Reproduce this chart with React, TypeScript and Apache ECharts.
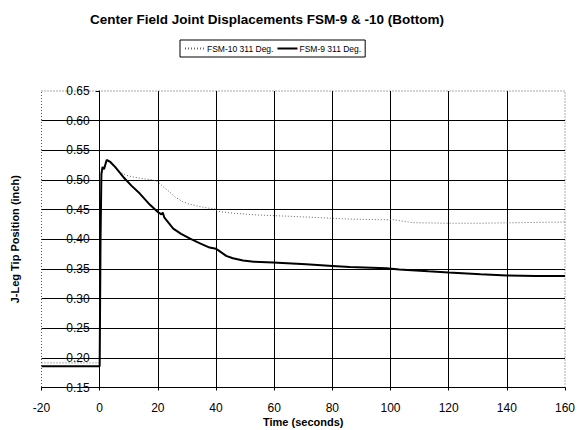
import React, { useEffect, useRef } from "react";
import * as echarts from "echarts";

const TITLE = "Center Field Joint Displacements FSM-9 & -10 (Bottom)";
const X_NAME = "Time (seconds)";
const Y_NAME = "J-Leg Tip Position (inch)";
const SERIES_NAMES = ["FSM-10 311 Deg.", "FSM-9 311 Deg."];

// FSM-10 (dotted)
const t10 = [-20, 0, 0.3, 0.6, 1.0, 1.5, 2.5, 3.5, 5, 6.9, 9, 11.5, 15, 18.4, 20, 22, 24, 26, 28.7, 31, 34.5, 38, 39.5, 40.5, 45.8, 54, 64, 73, 86, 96, 101, 107.7, 119, 131, 144, 160];
const v10 = [0.1915, 0.1915, 0.45, 0.51, 0.522, 0.518, 0.532, 0.53, 0.522, 0.514, 0.508, 0.505, 0.502, 0.5, 0.497, 0.488, 0.48, 0.471, 0.463, 0.459, 0.455, 0.452, 0.452, 0.447, 0.444, 0.441, 0.439, 0.437, 0.434, 0.433, 0.433, 0.428, 0.427, 0.427, 0.428, 0.429];

// FSM-9 (solid)
const t9 = [-20, 0, 0.3, 0.6, 1.0, 1.5, 2.4, 3.5, 5.3, 8.1, 11, 13.8, 17.3, 20, 21.2, 21.7, 22.2, 25.3, 28, 31.1, 34.5, 37.8, 40, 41.2, 43.5, 45.8, 49.3, 53, 59.6, 71, 80, 86, 98.6, 103, 113, 120, 131, 140, 150, 160];
const v9 = [0.186, 0.186, 0.4, 0.51, 0.522, 0.518, 0.5336, 0.531, 0.522, 0.505, 0.49, 0.477, 0.458, 0.446, 0.442, 0.445, 0.437, 0.418, 0.409, 0.401, 0.393, 0.386, 0.384, 0.38, 0.372, 0.368, 0.364, 0.362, 0.361, 0.358, 0.355, 0.353, 0.351, 0.349, 0.346, 0.344, 0.341, 0.339, 0.338, 0.338];

const FONT = "'Liberation Sans', Arial, sans-serif";

const GRID_LEFT = 41.5;
const GRID_RIGHT = 15;
const GRID_TOP = 91;
const GRID_BOTTOM = 42.5;
const X_MIN = -20;
const X_MAX = 160;

export default function App() {
  const ref = useRef<HTMLDivElement>(null);
  useEffect(() => {
    if (!ref.current) return;
    const chart = echarts.init(ref.current, null, { renderer: "svg" });
    const d10 = t10.map((t, i) => [t, v10[i]]);
    const d9 = t9.map((t, i) => [t, v9[i]]);
    const plotW = 580 - GRID_LEFT - GRID_RIGHT;
    const plotH = 430 - GRID_TOP - GRID_BOTTOM;
    // shift the y axis so it sits at x = 0, as in the reference
    const yOffset = -((0 - X_MIN) / (X_MAX - X_MIN)) * plotW;
    chart.setOption({
      animation: false,
      backgroundColor: "#fff",
      textStyle: { fontFamily: FONT },
      title: {
        text: TITLE,
        left: 90,
        top: 12,
        padding: 0,
        textStyle: { fontSize: 13.5, fontWeight: "bold", color: "#000", fontFamily: FONT },
      },
      legend: {
        left: 180,
        top: 40,
        padding: [4, 4, 4, 4],
        borderColor: "#000",
        borderWidth: 1,
        itemWidth: 20,
        itemHeight: 8,
        itemGap: 3,
        itemStyle: { opacity: 0 },
        textStyle: { fontSize: 8.5, color: "#000", fontFamily: FONT, padding: [0, 0, 0, -3] },
        data: SERIES_NAMES,
      },
      grid: { left: GRID_LEFT, top: GRID_TOP, right: GRID_RIGHT, bottom: GRID_BOTTOM, outerBoundsMode: "none", containLabel: false },
      xAxis: {
        type: "value",
        min: X_MIN,
        max: X_MAX,
        interval: 20,
        name: X_NAME,
        nameLocation: "middle",
        nameGap: 29,
        nameMoveOverlap: false,
        nameTextStyle: { fontSize: 11, fontWeight: "bold", color: "#000", fontFamily: FONT },
        axisLine: { onZero: false, lineStyle: { color: "#000", width: 1 } },
        axisTick: { show: true, length: 3, lineStyle: { color: "#000" } },
        axisLabel: { fontSize: 12, color: "#000", margin: 14, fontFamily: FONT },
        splitLine: { show: true, showMinLine: false, showMaxLine: false, lineStyle: { color: "#000", width: 1 } },
      },
      yAxis: {
        type: "value",
        min: 0.15,
        max: 0.65,
        interval: 0.05,
        offset: yOffset,
        name: Y_NAME,
        nameLocation: "middle",
        nameRotate: 90,
        nameGap: 79,
        nameMoveOverlap: false,
        nameTextStyle: { fontSize: 11, fontWeight: "bold", color: "#000", fontFamily: FONT },
        axisLine: { onZero: false, lineStyle: { color: "#000", width: 1 } },
        axisTick: { show: true, length: 4, lineStyle: { color: "#000" } },
        axisLabel: {
          fontSize: 12,
          color: "#000",
          margin: 10,
          fontFamily: FONT,
          formatter: (v: number) => v.toFixed(2),
        },
        splitLine: { show: true, showMinLine: false, showMaxLine: false, lineStyle: { color: "#000", width: 1 } },
      },
      graphic: [
        {
          type: "rect",
          z: 0,
          silent: true,
          shape: { x: GRID_LEFT, y: GRID_TOP, width: plotW, height: plotH },
          style: { fill: "none", stroke: "#555", lineWidth: 1, lineDash: [1, 2] },
        },
      ],
      series: [
        {
          name: SERIES_NAMES[0],
          type: "line",
          data: d10,
          symbol: "none",
          showSymbol: false,
          z: 3,
          lineStyle: { color: "#666", width: 1, type: [1, 2] },
          itemStyle: { color: "#666" },
        },
        {
          name: SERIES_NAMES[1],
          type: "line",
          data: d9,
          symbol: "none",
          showSymbol: false,
          z: 4,
          lineStyle: { color: "#000", width: 2 },
          itemStyle: { color: "#000" },
        },
      ],
    });
    return () => chart.dispose();
  }, []);
  return <div ref={ref} style={{ position: "fixed", left: 0, top: 0, width: 580, height: 430 }} />;
}
